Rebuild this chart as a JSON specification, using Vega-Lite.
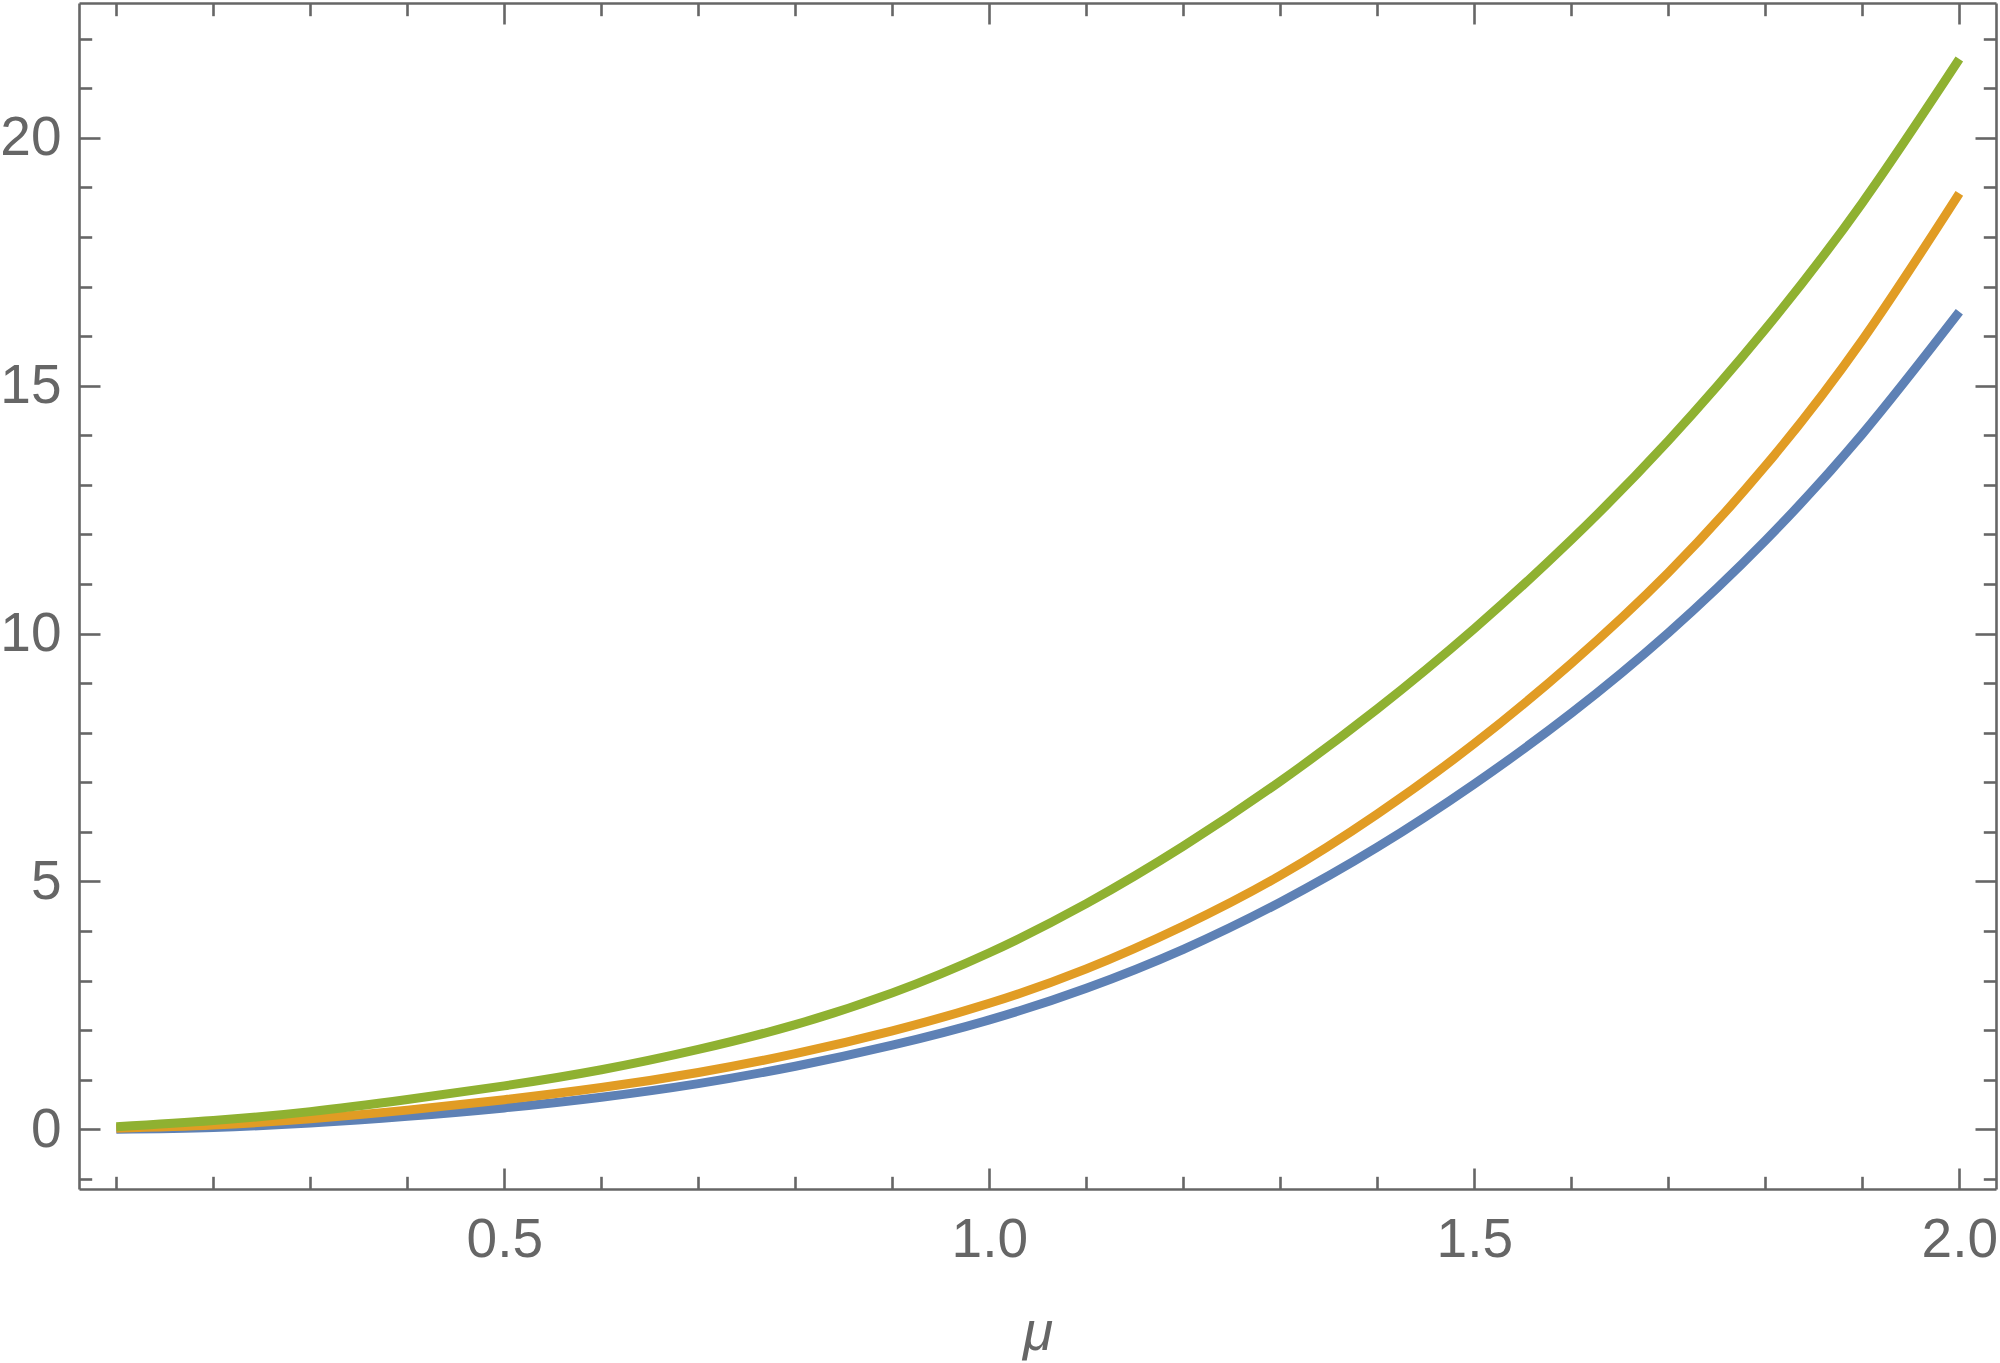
{
  "$schema": "https://vega.github.io/schema/vega-lite/v6.json",
  "width": 1917,
  "height": 1186,
  "autosize": "none",
  "padding": {"left": 79, "top": 3, "right": 4, "bottom": 174},
  "background": "white",
  "config": {
    "view": {"stroke": null},
    "axis": {
      "grid": false,
      "domainColor": "#666666",
      "domainWidth": 2.6,
      "tickColor": "#666666",
      "tickWidth": 2.6,
      "labelColor": "#666666",
      "labelFont": "Liberation Sans",
      "labelFontSize": 55,
      "labelOverlap": false,
      "labelFlush": false,
      "titleColor": "#666666",
      "titleFont": "Liberation Sans"
    }
  },
  "data": {
    "values": [
      {"mu": 0.1, "v": 0.0, "s": "a"},
      {"mu": 0.2, "v": 0.035, "s": "a"},
      {"mu": 0.3, "v": 0.125, "s": "a"},
      {"mu": 0.4, "v": 0.26, "s": "a"},
      {"mu": 0.5, "v": 0.43, "s": "a"},
      {"mu": 0.6, "v": 0.645, "s": "a"},
      {"mu": 0.7, "v": 0.92, "s": "a"},
      {"mu": 0.8, "v": 1.27, "s": "a"},
      {"mu": 0.9, "v": 1.695, "s": "a"},
      {"mu": 1.0, "v": 2.205, "s": "a"},
      {"mu": 1.1, "v": 2.845, "s": "a"},
      {"mu": 1.2, "v": 3.63, "s": "a"},
      {"mu": 1.3, "v": 4.58, "s": "a"},
      {"mu": 1.4, "v": 5.69, "s": "a"},
      {"mu": 1.5, "v": 6.965, "s": "a"},
      {"mu": 1.6, "v": 8.395, "s": "a"},
      {"mu": 1.7, "v": 10.015, "s": "a"},
      {"mu": 1.8, "v": 11.875, "s": "a"},
      {"mu": 1.9, "v": 14.025, "s": "a"},
      {"mu": 2.0, "v": 16.49, "s": "a"},
      {"mu": 0.1, "v": 0.02, "s": "b"},
      {"mu": 0.2, "v": 0.085, "s": "b"},
      {"mu": 0.3, "v": 0.21, "s": "b"},
      {"mu": 0.4, "v": 0.385, "s": "b"},
      {"mu": 0.5, "v": 0.595, "s": "b"},
      {"mu": 0.6, "v": 0.84, "s": "b"},
      {"mu": 0.7, "v": 1.145, "s": "b"},
      {"mu": 0.8, "v": 1.525, "s": "b"},
      {"mu": 0.9, "v": 1.985, "s": "b"},
      {"mu": 1.0, "v": 2.54, "s": "b"},
      {"mu": 1.1, "v": 3.235, "s": "b"},
      {"mu": 1.2, "v": 4.1, "s": "b"},
      {"mu": 1.3, "v": 5.12, "s": "b"},
      {"mu": 1.4, "v": 6.36, "s": "b"},
      {"mu": 1.5, "v": 7.78, "s": "b"},
      {"mu": 1.6, "v": 9.4, "s": "b"},
      {"mu": 1.7, "v": 11.23, "s": "b"},
      {"mu": 1.8, "v": 13.38, "s": "b"},
      {"mu": 1.9, "v": 15.92, "s": "b"},
      {"mu": 2.0, "v": 18.88, "s": "b"},
      {"mu": 0.1, "v": 0.05, "s": "c"},
      {"mu": 0.2, "v": 0.175, "s": "c"},
      {"mu": 0.3, "v": 0.355, "s": "c"},
      {"mu": 0.4, "v": 0.6, "s": "c"},
      {"mu": 0.5, "v": 0.875, "s": "c"},
      {"mu": 0.6, "v": 1.2, "s": "c"},
      {"mu": 0.7, "v": 1.61, "s": "c"},
      {"mu": 0.8, "v": 2.11, "s": "c"},
      {"mu": 0.9, "v": 2.75, "s": "c"},
      {"mu": 1.0, "v": 3.56, "s": "c"},
      {"mu": 1.1, "v": 4.55, "s": "c"},
      {"mu": 1.2, "v": 5.71, "s": "c"},
      {"mu": 1.3, "v": 7.02, "s": "c"},
      {"mu": 1.4, "v": 8.48, "s": "c"},
      {"mu": 1.5, "v": 10.1, "s": "c"},
      {"mu": 1.6, "v": 11.89, "s": "c"},
      {"mu": 1.7, "v": 13.89, "s": "c"},
      {"mu": 1.8, "v": 16.14, "s": "c"},
      {"mu": 1.9, "v": 18.69, "s": "c"},
      {"mu": 2.0, "v": 21.59, "s": "c"}
    ]
  },
  "layer": [
    {
      "mark": {"type": "line", "strokeWidth": 9, "interpolate": "natural", "strokeCap": "butt"},
      "encoding": {
        "x": {
          "field": "mu", "type": "quantitative",
          "scale": {"domain": [0.0615, 2.0378], "nice": false, "zero": false},
          "axis": {
            "orient": "bottom",
            "values": [0.1,0.2,0.3,0.4,0.5,0.6,0.7,0.8,0.9,1.0,1.1,1.2,1.3,1.4,1.5,1.6,1.7,1.8,1.9,2.0],
            "format": ".1f",
            "labelExpr": "datum.value == 0.5 || datum.value == 1 || datum.value == 1.5 || datum.value == 2 ? datum.label : ''",
            "tickSize": {"condition": {"test": "datum.value == 0.5 || datum.value == 1 || datum.value == 1.5 || datum.value == 2", "value": -21}, "value": -12.7},
            "labelPadding": 45,
            "title": "μ",
            "titleFontSize": 55,
            "titleFontStyle": "italic",
            "titleFontWeight": "normal",
            "titlePadding": 31
          }
        },
        "y": {
          "field": "v", "type": "quantitative",
          "scale": {"domain": [-1.206, 22.72], "nice": false, "zero": false},
          "axis": {
            "orient": "left",
            "values": [-1,0,1,2,3,4,5,6,7,8,9,10,11,12,13,14,15,16,17,18,19,20,21,22],
            "labelExpr": "datum.value % 5 == 0 ? datum.label : ''",
            "tickSize": {"condition": {"test": "datum.value % 5 == 0", "value": -21}, "value": -12.7},
            "labelPadding": 39,
            "title": null
          }
        },
        "color": {
          "field": "s", "type": "nominal",
          "scale": {"domain": ["a", "b", "c"], "range": ["#5E81B5", "#E19C24", "#8FB131"]},
          "legend": null
        }
      }
    },
    {
      "mark": {"type": "line", "strokeWidth": 9, "interpolate": "natural", "opacity": 0},
      "encoding": {
        "x": {
          "field": "mu", "type": "quantitative",
          "scale": {"domain": [0.0615, 2.0378], "nice": false, "zero": false},
          "axis": {
            "orient": "top",
            "values": [0.1,0.2,0.3,0.4,0.5,0.6,0.7,0.8,0.9,1.0,1.1,1.2,1.3,1.4,1.5,1.6,1.7,1.8,1.9,2.0],
            "labels": false,
            "tickSize": {"condition": {"test": "datum.value == 0.5 || datum.value == 1 || datum.value == 1.5 || datum.value == 2", "value": -21}, "value": -12.7},
            "title": null
          }
        },
        "y": {
          "field": "v", "type": "quantitative",
          "scale": {"domain": [-1.206, 22.72], "nice": false, "zero": false},
          "axis": {
            "orient": "right",
            "values": [-1,0,1,2,3,4,5,6,7,8,9,10,11,12,13,14,15,16,17,18,19,20,21,22],
            "labels": false,
            "tickSize": {"condition": {"test": "datum.value % 5 == 0", "value": -21}, "value": -12.7},
            "title": null
          }
        },
        "detail": {"field": "s", "type": "nominal"}
      }
    }
  ],
  "resolve": {"axis": {"x": "independent", "y": "independent"}}
}
